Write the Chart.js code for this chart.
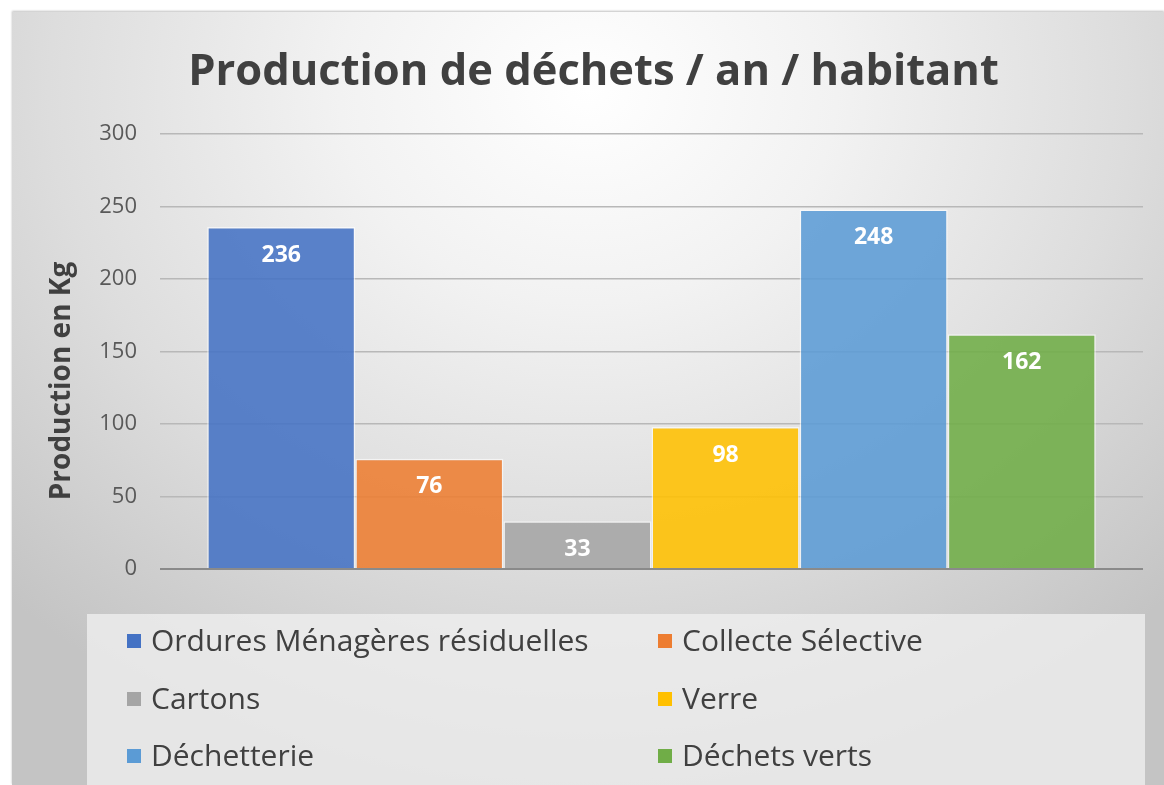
<!DOCTYPE html>
<html>
<head>
<meta charset="utf-8">
<script src="https://cdn.jsdelivr.net/npm/chart.js@4.4.1/dist/chart.umd.min.js"></script>
<style>
  html, body { margin: 0; padding: 0; background: #ffffff; }
  #frame {
    position: absolute; left: 12px; top: 12px; width: 1152px; height: 773px;
    background: radial-gradient(ellipse 72% 92% at 50% 10%, #ffffff 0%, #f2f2f2 30%, #dddddd 65%, #c4c4c4 100%);
    box-shadow: 0 -1px 2px rgba(0,0,0,0.25);
  }
  #chart { position: absolute; left: 0; top: 0; }
</style>
</head>
<body>
<div id="frame"><canvas id="chart" width="1152" height="773"></canvas></div>
<script>
const categories = [""];
const seriesNames = ["Ordures Ménagères résiduelles", "Collecte Sélective", "Cartons", "Verre", "Déchetterie", "Déchets verts"];
const seriesValues = [236, 76, 33, 98, 248, 162];
const yTicks = [0, 50, 100, 150, 200, 250, 300];

const colors = [
    "rgba(68,114,196,0.88)",
    "rgba(237,125,49,0.88)",
    "rgba(165,165,165,0.88)",
    "rgba(255,192,0,0.88)",
    "rgba(91,155,213,0.88)",
    "rgba(112,173,71,0.88)"
];
const swatch = ["#4472c4", "#ed7d31", "#a5a5a5", "#ffc000", "#5b9bd5", "#70ad47"];
const FONT = "'Open Sans', 'Noto Sans', sans-serif";

// value labels + axis title + legend box, drawn on the canvas
const extras = {
    id: "extras",
    afterDatasetsDraw(chart) {
        const ctx = chart.ctx;
        ctx.save();
        ctx.fillStyle = "#ffffff";
        ctx.font = "bold 23px " + FONT;
        ctx.textAlign = "center";
        ctx.textBaseline = "middle";
        chart.data.datasets.forEach((ds, i) => {
            chart.getDatasetMeta(i).data.forEach((bar, j) => {
                ctx.fillText(ds.data[j], bar.x, bar.y + 28);
            });
        });
        ctx.restore();
    },
    afterDraw(chart) {
        const ctx = chart.ctx;
        ctx.save();

        // y title
        ctx.translate(50, 369);
        ctx.rotate(-Math.PI / 2);
        ctx.fillStyle = "#404040";
        ctx.font = "bold 28px " + FONT;
        ctx.textAlign = "center";
        ctx.textBaseline = "middle";
        ctx.fillText("Production en Kg", 0, 0);
        ctx.setTransform(1, 0, 0, 1, 0, 0);

        // legend
        ctx.fillStyle = "rgba(240,240,240,0.78)";
        ctx.fillRect(75, 602, 1058, 171);
        const cols = [115, 646];
        const rows = [629, 687, 744];
        ctx.font = "30px " + FONT;
        ctx.textAlign = "left";
        ctx.textBaseline = "middle";
        seriesNames.forEach((name, i) => {
            const x = cols[i % 2];
            const y = rows[Math.floor(i / 2)];
            ctx.fillStyle = swatch[i];
            ctx.fillRect(x, y - 7, 14, 14);
            ctx.fillStyle = "#404040";
            ctx.fillText(name, x + 24, y + 1);
        });
        ctx.restore();
    }
};

new Chart(document.getElementById("chart"), {
    type: "bar",
    data: {
        labels: categories,
        datasets: seriesNames.map((name, i) => ({
            label: name,
            data: [seriesValues[i]],
            backgroundColor: colors[i],
            borderColor: "rgba(255,255,255,0.6)",
            borderWidth: 1.5,
            categoryPercentage: 0.904,
            barPercentage: 1
        }))
    },
    options: {
        responsive: false,
        animation: false,
        layout: { padding: { left: 32, right: 21, top: 0, bottom: 216 } },
        plugins: {
            legend: { display: false },
            tooltip: { enabled: false },
            title: {
                display: true,
                text: "Production de déchets / an / habitant",
                color: "#404040",
                font: { family: FONT, size: 43.5, weight: "bold" },
                padding: { top: 35, bottom: 35 }
            }
        },
        scales: {
            x: { display: false },
            y: {
                min: 0,
                max: 300,
                afterBuildTicks: s => { s.ticks = yTicks.map(v => ({ value: v })); },
                afterFit: s => { s.width = 116; },
                border: { display: false },
                grid: {
                    drawTicks: false,
                    color: c => c.tick.value === 0 ? "#8a8a8a" : "#b8b8b8",
                    lineWidth: c => c.tick.value === 0 ? 2 : 1.5
                },
                ticks: {
                    padding: 23,
                    color: "#595959",
                    font: { family: FONT, size: 22 }
                }
            }
        }
    },
    plugins: [extras]
});
</script>
</body>
</html>
